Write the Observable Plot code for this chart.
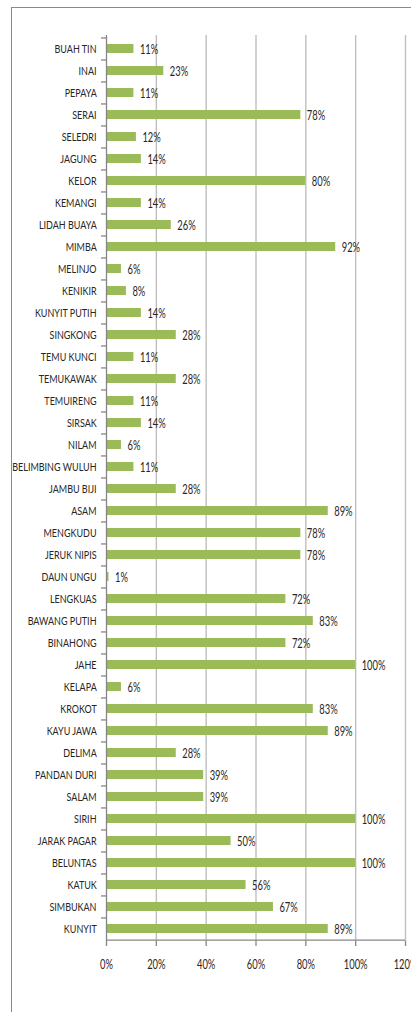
<!DOCTYPE html>
<html>
<head>
<meta charset="utf-8">
<script src="https://cdn.jsdelivr.net/npm/d3@7"></script>
<script src="https://cdn.jsdelivr.net/npm/@observablehq/plot@0.6"></script>
<style>
  html, body { margin: 0; padding: 0; background: #fff; }
  #wrap { position: relative; width: 411px; height: 1012px; overflow: hidden; }
  #frame { position: absolute; left: 11px; top: 7px; width: 420px; height: 1020px;
           border-left: 1.3px solid #8a8a8a; border-top: 1.3px solid #8a8a8a; box-sizing: border-box; }
  #chart { position: absolute; left: 0; top: 0; }
</style>
</head>
<body>
<div id="wrap"><div id="frame"></div><div id="chart"></div></div>
<script>
const categories = ["BUAH TIN","INAI","PEPAYA","SERAI","SELEDRI","JAGUNG","KELOR","KEMANGI","LIDAH BUAYA","MIMBA",
  "MELINJO","KENIKIR","KUNYIT PUTIH","SINGKONG","TEMU KUNCI","TEMUKAWAK","TEMUIRENG","SIRSAK","NILAM","BELIMBING WULUH",
  "JAMBU BIJI","ASAM","MENGKUDU","JERUK NIPIS","DAUN UNGU","LENGKUAS","BAWANG PUTIH","BINAHONG","JAHE","KELAPA",
  "KROKOT","KAYU JAWA","DELIMA","PANDAN DURI","SALAM","SIRIH","JARAK PAGAR","BELUNTAS","KATUK","SIMBUKAN","KUNYIT"];
const values = [11,23,11,78,12,14,80,14,26,92,
  6,8,14,28,11,28,11,14,6,11,
  28,89,78,78,1,72,83,72,100,6,
  83,89,28,39,39,100,50,100,56,67,89];
const xTicks = [0,20,40,60,80,100,120];

const data = categories.map((c, i) => ({name: c, value: values[i]}));

const W = 411, H = 1012, mt = 35, mb = 71, ml = 106, mr = 6;
const step = (H - mt - mb) / categories.length;
const font = "Lato, 'Open Sans', sans-serif";
const condense = 0.75;

const chart = Plot.plot({
  width: W, height: H,
  marginTop: mt, marginBottom: mb, marginLeft: ml, marginRight: mr,
  style: {fontFamily: font, background: "transparent", overflow: "visible"},
  x: {domain: [0, 120], ticks: xTicks},
  y: {domain: categories, paddingInner: 0.6, paddingOuter: 0.3},
  marks: [
    Plot.ruleX(xTicks.slice(1), {stroke: "#bfbfbf", strokeWidth: 1.4, strokeOpacity: 1}),
    Plot.barX(data, {x: "value", y: "name", fill: "#9bbb59"}),
    Plot.text(data, {x: "value", y: "name", text: d => d.value + "%", dx: 6, dy: 1, textAnchor: "start",
      fontSize: 12.5, fill: "#262626"}),
    // y-axis line and category boundary ticks
    Plot.ruleX([0], {stroke: "#868686", strokeWidth: 1.3}),
    Plot.ruleY(categories, {y: d => d, x1: -2, x2: 0, dy: -step / 2, stroke: "#868686", strokeWidth: 1.3}),
    Plot.axisY({tickSize: 0, tickPadding: 10, fontSize: 12, fill: "#262626", label: null}),
    // x-axis
    Plot.ruleY([0], {y: () => categories[categories.length - 1], dy: step / 2, x1: 0, x2: 120, stroke: "#868686", strokeWidth: 1.3}),
    Plot.axisX({ticks: xTicks, tickFormat: d => d + "%", tickSize: 5, tickPadding: 14, fontSize: 12.5,
      fill: "#262626", stroke: "#868686", strokeWidth: 1.3, label: null})
  ]
});
document.getElementById("chart").appendChild(chart);

// Condense all texts horizontally (the original uses a narrow font), keeping each text's anchor in place
const origins = {start: "0% 50%", middle: "50% 50%", end: "100% 50%"};
chart.querySelectorAll("text").forEach(t => {
  const anchor = getComputedStyle(t).textAnchor || "start";
  const g = document.createElementNS("http://www.w3.org/2000/svg", "g");
  t.parentNode.insertBefore(g, t);
  g.appendChild(t);
  g.style.transformBox = "fill-box";
  g.style.transformOrigin = origins[anchor] || origins.start;
  g.style.transform = `scaleX(${condense})`;
});
</script>
</body>
</html>
